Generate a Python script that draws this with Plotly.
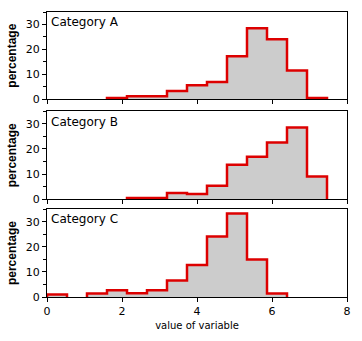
import plotly.graph_objects as go

# ---- data ----
bin_edges = [i * 8 / 15 for i in range(16)]
categories = ["Category A", "Category B", "Category C"]
values_a = [0, 0, 0, 0.5, 1.2, 1.2, 3.3, 5.6, 6.9, 17.3, 28.5, 24.1, 11.6, 0.5, 0]
values_b = [0, 0, 0, 0, 0.5, 0.5, 2.5, 2.1, 5.4, 13.7, 16.9, 22.6, 28.5, 9.0, 0]
values_c = [1.0, 0, 1.4, 2.7, 1.5, 2.7, 6.6, 12.7, 24.1, 33.3, 14.9, 1.4, 0, 0, 0]
x_ticks = [0, 2, 4, 6, 8]
y_ticks = [0, 10, 20, 30]
x_title = "value of variable"
y_title = "percentage"

series = [values_a, values_b, values_c]
RED = "#dd0000"
GREY = "#cccccc"

fig = go.Figure()

domains = [[0.6936, 1.0], [0.3431, 0.6516], [0.0, 0.3082]]

def outline(edges, vals):
    xs, ys = [], []
    run = False
    for i, v in enumerate(vals):
        l, r = edges[i], edges[i + 1]
        if v > 0:
            if not run:
                xs.append(l); ys.append(0)
                run = True
            xs += [l, r]; ys += [v, v]
        else:
            if run:
                xs.append(l); ys.append(0)
                xs.append(None); ys.append(None)
                run = False
    if run:
        xs.append(edges[-1]); ys.append(0)
    return xs, ys

centers = [(bin_edges[i] + bin_edges[i + 1]) / 2 for i in range(15)]
width = bin_edges[1] - bin_edges[0]

for k, vals in enumerate(series):
    xa = "x" if k == 0 else f"x{k+1}"
    ya = "y" if k == 0 else f"y{k+1}"
    fig.add_trace(go.Bar(x=centers, y=vals, width=width, marker=dict(color=GREY, line=dict(width=0)),
                         xaxis=xa, yaxis=ya, showlegend=False, hoverinfo="skip"))
    ox, oy = outline(bin_edges, vals)
    fig.add_trace(go.Scatter(x=ox, y=oy, mode="lines", line=dict(color=RED, width=2.5),
                             xaxis=xa, yaxis=ya, showlegend=False, hoverinfo="skip"))
    fig.add_annotation(text=categories[k], xref=f"{xa} domain", yref=f"{ya} domain",
                       x=0.006, y=0.985, xanchor="left", yanchor="top", showarrow=False,
                       font=dict(family="DejaVu Sans", size=12, color="black"))

tickfont = dict(family="DejaVu Sans", size=11, color="black")
layout = dict(
    width=362, height=341,
    margin=dict(l=45, r=12, t=11, b=44),
    paper_bgcolor="white", plot_bgcolor="white",
    bargap=0, barmode="overlay",
)
for k in range(3):
    xs = "xaxis" if k == 0 else f"xaxis{k+1}"
    ys = "yaxis" if k == 0 else f"yaxis{k+1}"
    ya = "y" if k == 0 else f"y{k+1}"
    layout[xs] = dict(
        range=[0, 8], tickvals=x_ticks, ticks="outside", ticklen=4, tickwidth=1, tickcolor="black",
        showline=True, linecolor="black", linewidth=1, mirror=True, showgrid=False, zeroline=False,
        anchor=ya, showticklabels=(k == 2), tickfont=tickfont,
        matches=None if k == 0 else "x",
    )
    layout[ys] = dict(
        domain=domains[k], range=[0, 35], tickvals=y_ticks, ticks="outside", ticklen=4, tickwidth=1,
        tickcolor="black", showline=True, linecolor="black", linewidth=1, mirror=True,
        showgrid=False, zeroline=False, anchor="x" if k == 0 else f"x{k+1}", tickfont=tickfont,
        minor=dict(tickvals=[5, 15, 25, 35], ticks="outside", ticklen=3, tickcolor="black", showgrid=False),
        title=dict(text=f"<b>{y_title}</b>", font=dict(family="Liberation Sans", size=12, color="black"),
                   standoff=6),
    )
layout["xaxis3"]["title"] = dict(text=x_title, font=dict(family="DejaVu Sans", size=10, color="black"),
                                 standoff=4)
fig.update_layout(**layout)

fig.write_html("out.html")
